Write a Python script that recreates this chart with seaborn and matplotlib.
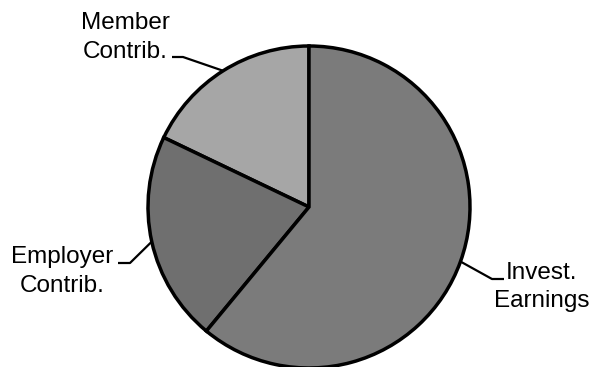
import numpy as np
import seaborn as sns
import matplotlib.pyplot as plt

# slice data (percent of total), counter-clockwise from 12 o'clock
labels = ["Member\nContrib.", "Employer\nContrib.", "Invest.\nEarnings"]
values = [17.9, 21.1, 61.0]
colors = ["#a6a6a6", "#6f6f6f", "#7b7b7b"]

# label layout in pixels (y up): leader elbow, leader end, text centre x, baselines
label_layout = [
    dict(elbow=(183, 310), end=(172, 310), tx=125, ty=(338, 309)),
    dict(elbow=(130, 104), end=(118, 104), tx=62, ty=(104, 75)),
    dict(elbow=(492, 88), end=(504, 88), tx=542, ty=(88, 60)),
]

sns.set_theme(style="white")
plt.rcParams["font.family"] = ["Liberation Sans", "DejaVu Sans"]

W, H = 592, 367
fig = plt.figure(figsize=(W / 100, H / 100), dpi=100)
ax = fig.add_axes([0, 0, 1, 1])

center = (309, 160)
radius = 161

wedges, _ = ax.pie(
    values,
    colors=colors,
    startangle=90,
    counterclock=True,
    center=center,
    radius=radius,
    wedgeprops=dict(edgecolor="black", linewidth=2.5),
    frame=True,
)
ax.set_xlim(0, W)
ax.set_ylim(0, H)
ax.set_aspect("equal")
ax.axis("off")

# leader lines start at the middle of each wedge's arc
for w, lab, lay in zip(wedges, labels, label_layout):
    mid = np.deg2rad((w.theta1 + w.theta2) / 2)
    ex = center[0] + radius * np.cos(mid)
    ey = center[1] + radius * np.sin(mid)
    xs = [ex, lay["elbow"][0], lay["end"][0]]
    ys = [ey, lay["elbow"][1], lay["end"][1]]
    ax.plot(xs, ys, color="black", linewidth=1.6, solid_capstyle="butt")
    for line, y in zip(lab.split("\n"), lay["ty"]):
        ax.text(lay["tx"], y, line, ha="center", va="baseline",
                fontsize=17.5, color="black")

fig.savefig("out.png", dpi=100)
